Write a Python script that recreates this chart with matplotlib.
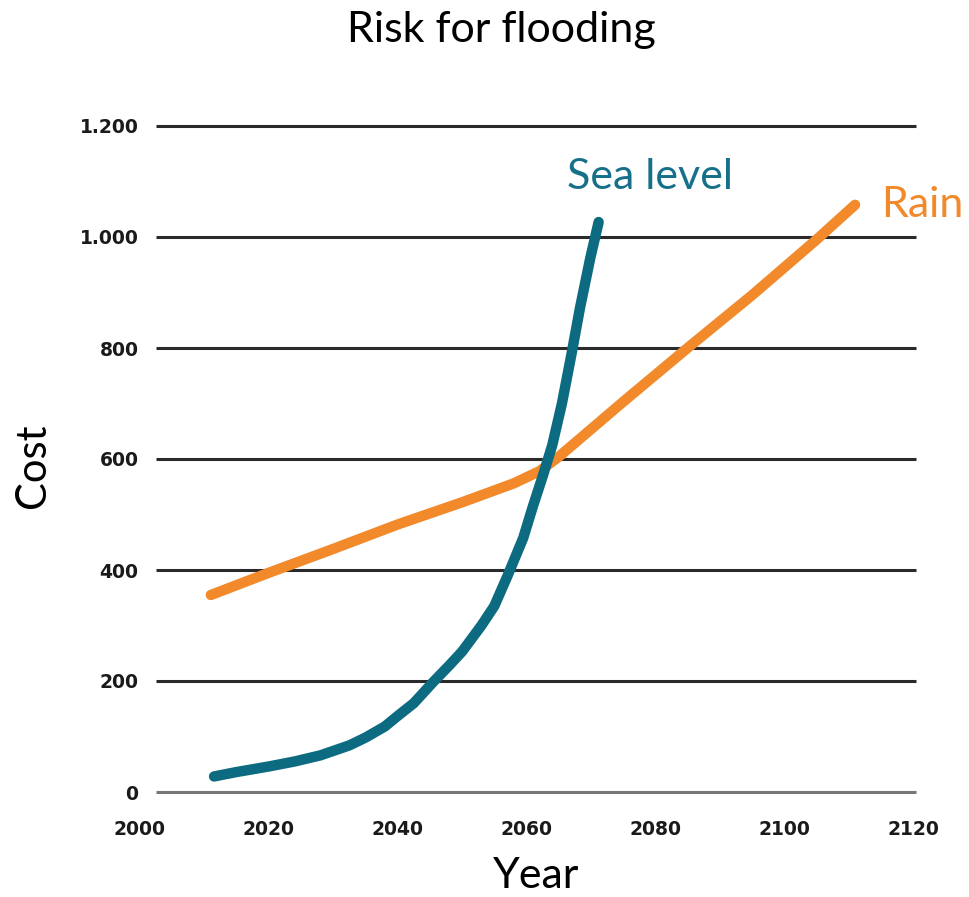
import matplotlib
matplotlib.use("Agg")
import matplotlib.pyplot as plt
from matplotlib.ticker import FuncFormatter

# Projected cost of flooding by cause
sea_years = [2011.5, 2015, 2020, 2024, 2028, 2032.5, 2035, 2038, 2040, 2042.5, 2045.5,
             2048, 2050, 2053, 2055, 2057, 2059.5, 2061, 2062.6, 2064, 2065.5, 2067,
             2068.3, 2069.9, 2071.2]
sea_cost = [28, 36, 46, 55, 66, 84, 98, 118, 137, 160, 198,
            228, 253, 300, 335, 388, 458, 515, 572, 625, 700, 790,
            872, 962, 1027]

rain_years = [2011, 2020, 2030, 2040, 2050, 2058, 2062, 2065, 2075, 2085, 2095, 2105, 2111]
rain_cost = [355, 395, 438, 482, 522, 556, 578, 604, 703, 800, 895, 995, 1058]

x_ticks = [2000, 2020, 2040, 2060, 2080, 2100, 2120]
y_ticks = [0, 200, 400, 600, 800, 1000, 1200]

TEAL = "#0c6b80"
ORANGE = "#f28a2c"
TEXT_FONT = ["Lato", "DejaVu Sans"]
TICK_FONT = ["DejaVu Sans"]

fig = plt.figure(figsize=(9.69, 8.97), dpi=100)
ax = fig.add_axes([140 / 969, (897 - 792) / 897, 773 / 969, 666 / 897])
ax.set_xlim(2000, 2120)
ax.set_ylim(0, 1200)

# horizontal rules
for y in y_ticks:
    col = "#777777" if y == 0 else "#2a2a2a"
    ax.hlines(y, 2002.5, 2120.5, colors=col, linewidth=2.2, clip_on=False, zorder=1)

ax.plot(rain_years, rain_cost, color=ORANGE, linewidth=7.5, solid_capstyle="round",
        solid_joinstyle="round", zorder=3)
ax.plot(sea_years, sea_cost, color=TEAL, linewidth=7.5, solid_capstyle="round",
        solid_joinstyle="round", zorder=4)

for s in ax.spines.values():
    s.set_visible(False)
ax.set_xticks(x_ticks)
ax.set_yticks(y_ticks)
ax.yaxis.set_major_formatter(FuncFormatter(lambda v, p: f"{int(v):,}".replace(",", ".")))
ax.tick_params(length=0)
ax.tick_params(axis="x", pad=20)
ax.tick_params(axis="y", pad=1)
for lab in ax.get_xticklabels() + ax.get_yticklabels():
    lab.set_family(TICK_FONT)
    lab.set_fontweight("bold")
    lab.set_fontsize(13.5)
    lab.set_color("#1a1a1a")

ax.text(2079.2, 1108, "Sea level", color="#17708a", fontsize=31, family=TEXT_FONT,
        ha="center", va="center")
ax.text(2121.4, 1058, "Rain", color=ORANGE, fontsize=31, family=TEXT_FONT,
        ha="center", va="center", clip_on=False)

fig.text(501 / 969, 1 - 30 / 897, "Risk for flooding", fontsize=31, family=TEXT_FONT,
         ha="center", va="center", color="black")
fig.text(33 / 969, 1 - 466 / 897, "Cost", fontsize=30, family=TEXT_FONT,
         ha="center", va="center", rotation=90, color="black")
fig.text(536 / 969, 1 - 876 / 897, "Year", fontsize=31, family=TEXT_FONT,
         ha="center", va="center", color="black")

fig.savefig("out.png", dpi=100, facecolor="white")
